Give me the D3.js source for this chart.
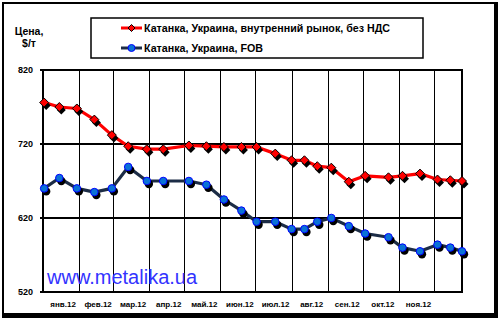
<!DOCTYPE html>
<html><head><meta charset="utf-8">
<script src="https://cdn.jsdelivr.net/npm/d3@7"></script>
<style>body{margin:0;background:#fff}svg{display:block}text{font-family:"Liberation Sans",Arial,sans-serif;font-weight:bold}text.wm{font-weight:normal}</style>
</head><body>
<script>
const dates = ["2012-01-02","2012-01-15","2012-01-30","2012-02-14","2012-02-29","2012-03-14","2012-03-30","2012-04-13","2012-05-05","2012-05-20","2012-06-04","2012-06-19","2012-07-02","2012-07-18","2012-08-01","2012-08-12","2012-08-23","2012-09-04","2012-09-19","2012-10-03","2012-10-23","2012-11-04","2012-11-19","2012-12-04","2012-12-15","2012-12-25"];
const domestic = [776,770,768,753,732,717,713,713,718,717,716,716,716,707,698,698,690,688,669,677,675,677,680,672,671,670];
const fob = [660,674,660,655,660,689,670,670,670,665,645,630,615,615,605,605,615,620,609,599,594,580,575,584,580,575];
const seriesNames = ["Катанка, Украина, внутренний рынок, без НДС","Катанка, Украина, FOB"];
const yTicks = [520,620,720,820];
const monthLabels = ["янв.12","фев.12","мар.12","апр.12","май.12","июн.12","июл.12","авг.12","сен.12","окт.12","ноя.12"];
const yTitle = ["Цена,","$/т"];
const watermark = "www.metalika.ua";

const W=500,H=320;
const svg=d3.select("body").append("svg").attr("width",W).attr("height",H);
// outer frame with shadow
svg.append("rect").attr("x",2).attr("y",2).attr("width",496).attr("height",316).attr("fill","#000");
svg.append("rect").attr("x",4).attr("y",4).attr("width",490).attr("height",309).attr("fill","#fff");

const parse=d3.timeParse("%Y-%m-%d");
const x=d3.scaleTime().domain([new Date(2012,0,1),new Date(2012,11,25)]).range([43,462]);
const y=d3.scaleLinear().domain([520,820]).range([292,70]);

// vertical gridlines at month starts
const months=d3.timeMonth.range(new Date(2012,1,1),new Date(2012,11,2));
svg.append("g").selectAll("line").data(months).join("line")
  .attr("x1",d=>Math.round(x(d))+0.5).attr("x2",d=>Math.round(x(d))+0.5)
  .attr("y1",70).attr("y2",292).attr("stroke","#000").attr("stroke-width",1);
// horizontal gridlines
svg.append("g").selectAll("line").data(yTicks).join("line")
  .attr("x1",40).attr("x2",462).attr("y1",d=>y(d)).attr("y2",d=>y(d))
  .attr("stroke","#000").attr("stroke-width",2);
// plot border
svg.append("rect").attr("x",43).attr("y",70).attr("width",419).attr("height",222)
  .attr("fill","none").attr("stroke","#000").attr("stroke-width",2);

// y labels
svg.append("g").selectAll("text").data(yTicks).join("text")
  .attr("x",33).attr("y",d=>y(d)+3).attr("text-anchor","end").attr("font-size",9).text(d=>d);
// x labels
const allMonths=d3.timeMonth.range(new Date(2012,0,1),new Date(2012,11,1));
svg.append("g").selectAll("text").data(allMonths).join("text")
  .attr("x",(d,i)=>(x(d)+x(d3.timeMonth.offset(d,1)))/2+2).attr("y",306.5)
  .attr("text-anchor","middle").attr("font-size",8).text((d,i)=>monthLabels[i]);

// y title
svg.append("g").selectAll("text").data(yTitle).join("text")
  .attr("x",29).attr("y",(d,i)=>35+i*11.5).attr("text-anchor","middle").attr("font-size",10.5).text(d=>d);

// watermark
svg.append("text").attr("class","wm").attr("x",47).attr("y",284).attr("font-size",20)
  .attr("fill","#3333ff").text(watermark);

const pts1=dates.map((d,i)=>[x(parse(d)),y(domestic[i])]);
const pts2=dates.map((d,i)=>[x(parse(d)),y(fob[i])]);
const line=d3.line();

const diamond=(cx,cy,r)=>`M${cx},${cy-r}L${cx+r},${cy}L${cx},${cy+r}L${cx-r},${cy}Z`;

// red series
svg.append("path").attr("d",line(pts1)).attr("fill","none").attr("stroke","#ff0000").attr("stroke-width",3.2).attr("stroke-linejoin","round");
svg.append("g").selectAll("path").data(pts1).join("path").attr("d",p=>diamond(p[0]+2,p[1]+3,4.5)).attr("fill","#000");
svg.append("g").selectAll("path").data(pts1).join("path").attr("d",p=>diamond(p[0],p[1],4.5)).attr("fill","#ff0000").attr("stroke","#000").attr("stroke-width",1);

// blue series
svg.append("path").attr("d",line(pts2)).attr("fill","none").attr("stroke","#1c2c46").attr("stroke-width",3.2).attr("stroke-linejoin","round");
svg.append("g").selectAll("circle").data(pts2).join("circle").attr("cx",p=>p[0]+2).attr("cy",p=>p[1]+3).attr("r",4.2).attr("fill","#000");
svg.append("g").selectAll("circle").data(pts2).join("circle").attr("cx",p=>p[0]).attr("cy",p=>p[1]).attr("r",3.8).attr("fill","#0a72d6").attr("stroke","#0000ff").attr("stroke-width",1);

// legend
svg.append("rect").attr("x",91).attr("y",18).attr("width",332).attr("height",40).attr("fill","#fff").attr("stroke","#000").attr("stroke-width",1.5);
const lg=svg.append("g");
[0,1].forEach(i=>{
  const ly=28+i*20;
  lg.append("line").attr("x1",121).attr("x2",142).attr("y1",ly).attr("y2",ly)
    .attr("stroke",i===0?"#ff0000":"#1c2c46").attr("stroke-width",3);
  if(i===0) lg.append("path").attr("d",diamond(131.5,ly,3.5)).attr("fill","#ff0000").attr("stroke","#000").attr("stroke-width",1);
  else lg.append("circle").attr("cx",131.5).attr("cy",ly).attr("r",3.5).attr("fill","#0a72d6").attr("stroke","#0000ff").attr("stroke-width",1);
  lg.append("text").attr("x",144).attr("y",ly+4).attr("font-size",10.7).text(seriesNames[i]);
});
</script>
</body></html>
